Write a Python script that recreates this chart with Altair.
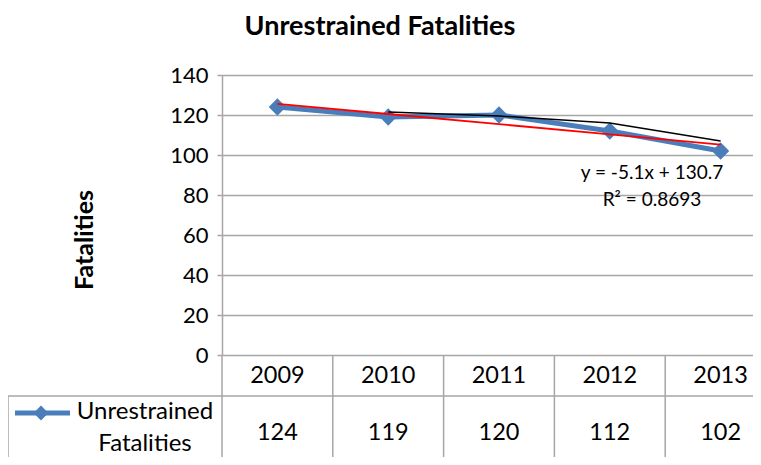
import altair as alt
import pandas as pd

# ---- data ----
years = ["2009", "2010", "2011", "2012", "2013"]
fatalities = [124, 119, 120, 112, 102]
trend_values = [125.6, 120.5, 115.4, 110.3, 105.2]          # linear trend line
moving_avg_index = [1, 2, 3, 4]
moving_avg_values = [121.5, 119.5, 116.0, 107.0]            # 2-period moving average
y_ticks = [0, 20, 40, 60, 80, 100, 120, 140]
series_name_lines = ["Unrestrained", "Fatalities"]
chart_title = "Unrestrained Fatalities"
y_title = "Fatalities"
equation_lines = ["y = -5.1x + 130.7", "R² = 0.8693"]

FONT = "Lato"
BLUE = "#4a7ebb"
GRID = "#a6a6a6"

idx = list(range(len(years)))
df = pd.DataFrame({"i": idx, "year": years, "value": fatalities, "trend": trend_values})
ma = pd.DataFrame({"i": moving_avg_index, "ma": moving_avg_values})
bounds = pd.DataFrame({"b": [k - 0.5 for k in range(len(years) + 1)]})
one = pd.DataFrame({"k": [0]})

VIEW_W, H = 531, 280          # drawn view (page clips the right side like the reference)
RANGE_W = 554                 # category spacing as in the reference
xs = alt.Scale(domain=[-0.5, len(years) - 0.5], range=[0, RANGE_W])
ys = alt.Scale(domain=[0, 140], nice=False, zero=True)

y_axis = alt.Axis(values=y_ticks, grid=True, gridColor=GRID, gridWidth=1.5,
                  domainColor=GRID, domainWidth=1.5, tickColor=GRID, tickWidth=1.5,
                  tickSize=5, labelFont=FONT, labelFontSize=22, labelColor="#000",
                  labelPadding=9, labelOverlap=False, title=None)

X = alt.X("i:Q", scale=xs, axis=None)


def Y(field):
    return alt.Y(field, scale=ys, axis=y_axis)


base = alt.Chart(df)

blue_line = base.mark_line(color=BLUE, strokeWidth=5).encode(x=X, y=Y("value:Q"))
blue_pts = base.mark_point(shape="diamond", filled=True, opacity=1, color=BLUE, size=300).encode(
    x=X, y=Y("value:Q"))
ma_line = alt.Chart(ma).mark_line(color="black", strokeWidth=1.5).encode(
    x=alt.X("i:Q", scale=xs, axis=None), y=Y("ma:Q"))
trend_line = base.mark_line(color="#ff0000", strokeWidth=1.8).encode(x=X, y=Y("trend:Q"))

# ---- data table below the plot ----
table_v = alt.Chart(bounds).mark_rule(color=GRID, strokeWidth=1.5).encode(
    x=alt.X("b:Q", scale=xs, axis=None), y=alt.value(H), y2=alt.value(H + 130))
table_h = alt.Chart(one).mark_rule(color=GRID, strokeWidth=1.5).encode(
    x=alt.value(-214), x2=alt.value(VIEW_W + 10), y=alt.value(321))
table_left = alt.Chart(one).mark_rule(color=GRID, strokeWidth=1.5).encode(
    x=alt.value(-214), y=alt.value(321), y2=alt.value(H + 130))
year_txt = base.mark_text(font=FONT, fontSize=23.5, color="#000").encode(
    x=X, y=alt.value(301), text="year:N")
val_txt = base.mark_text(font=FONT, fontSize=23.5, color="#000").encode(
    x=X, y=alt.value(358), text="value:Q")
leg_line = alt.Chart(one).mark_rule(color=BLUE, strokeWidth=5).encode(
    x=alt.value(-207), x2=alt.value(-152), y=alt.value(338))
leg_pt = alt.Chart(one).mark_point(shape="diamond", filled=True, opacity=1,
                                   color=BLUE, size=220).encode(
    x=alt.value(-181), y=alt.value(338))


def label(text, x, y, size, bold=False, angle=0):
    kw = dict(font=FONT, fontSize=size, color="#000", text=text)
    if bold:
        kw["fontWeight"] = "bold"
    if angle:
        kw["angle"] = angle
    return alt.Chart(one).mark_text(**kw).encode(x=alt.value(x), y=alt.value(y))


leg_txt = [label(t, -77, yy, 24) for t, yy in zip(series_name_lines, [337, 369])]
eq_txt = [label(t, 430, yy, 19) for t, yy in zip(equation_lines, [98, 125])]
title_txt = label(chart_title, 158, -48, 27, bold=True)
ytitle_txt = label(y_title, -137, 165, 25, bold=True, angle=270)

chart = alt.layer(
    blue_line, table_v, table_h, table_left, blue_pts, ma_line, trend_line,
    year_txt, val_txt, leg_line, leg_pt, *leg_txt, title_txt, ytitle_txt, *eq_txt
).properties(
    width=VIEW_W, height=H,
    autosize=alt.AutoSizeParams(type="none"),
    padding={"left": 214, "top": 67, "right": 0, "bottom": 102},
).configure_view(stroke=None)

chart.save("out.html", embed_options={"renderer": "svg", "actions": False})
